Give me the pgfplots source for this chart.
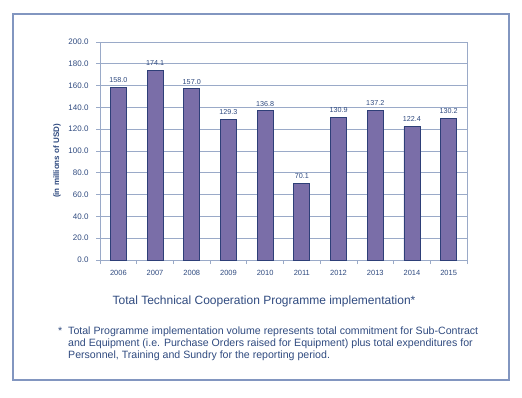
\documentclass[border=0pt]{standalone}
\usepackage{pgfplots}
\pgfplotsset{compat=1.18}
\usepackage{fontspec}
\setmainfont{Liberation Sans}
\definecolor{txt}{HTML}{2F4A7F}
\definecolor{barfill}{HTML}{7A6EA8}
\definecolor{baredge}{HTML}{2E3F78}
\definecolor{gridc}{HTML}{9AAAC8}
\definecolor{framec}{HTML}{8296C0}
\begin{document}
\begin{tikzpicture}[x=1pt,y=1pt]
\useasboundingbox (0,0) rectangle (522,397);
\draw[framec, line width=1.2pt] (13,17) rectangle (509,383);
\begin{axis}[
  at={(100pt,137pt)}, anchor=south west,
  scale only axis, width=367pt, height=218pt,
  xmin=-0.5, xmax=9.5, ymin=0, ymax=200,
  xtick={0,...,9},
  xticklabels={2006,2007,2008,2009,2010,2011,2012,2013,2014,2015},
  minor xtick={-0.5,0.5,...,9.5},
  ytick={0,20,...,200},
  ymajorgrids, major grid style={gridc, line width=0.8pt},
  axis line style={gridc, line width=0.8pt},
  tick style={gridc, line width=0.8pt},
  tick align=outside, tick pos=left,
  x tick style={draw=none},
  minor x tick style={draw=gridc},
  major tick length=4pt, minor tick length=4pt,
  y tick label style={font=\fontsize{8}{9}\selectfont, text=txt, xshift=-4pt, /pgf/number format/.cd, fixed, fixed zerofill, precision=1},
  x tick label style={font=\fontsize{7.5}{8}\selectfont, text=txt, yshift=-3pt},
  /pgf/number format/assume math mode=true,
  ylabel={\textbf{(in millions of USD)}},
  ylabel style={font=\fontsize{8}{9}\selectfont, text=txt, at={(axis description cs:-0.097,0.454)}},
  ybar, bar width=16pt,
  nodes near coords={\pgfmathprintnumber[fixed,fixed zerofill,precision=1,assume math mode=true]{\pgfplotspointmeta}},
  every node near coord/.append style={font=\fontsize{7.2}{8}\selectfont, text=txt, yshift=1pt},
  clip=false,
]
\addplot[fill=barfill, draw=baredge, line width=0.8pt] coordinates {
(0,158.0) (1,174.1) (2,157.0) (3,129.3) (4,136.8) (5,70.1) (6,130.9) (7,137.2) (8,122.4) (9,130.2)};
\end{axis}
\node[text=txt, font=\fontsize{12}{14}\selectfont] at (264,95.3) {Total Technical Cooperation Programme implementation*};
\node[text=txt, font=\fontsize{10.6}{11.7}\selectfont, anchor=north west, align=left, inner sep=0pt] at (58,70) {*};
\node[text=txt, font=\fontsize{10.6}{11.8}\selectfont, anchor=north west, align=left, inner sep=0pt] at (68,70) {Total Programme implementation volume represents total commitment for Sub-Contract\\ and Equipment (i.e. Purchase Orders raised for Equipment) plus total expenditures for\\ Personnel, Training and Sundry for the reporting period.};
\end{tikzpicture}
\end{document}
